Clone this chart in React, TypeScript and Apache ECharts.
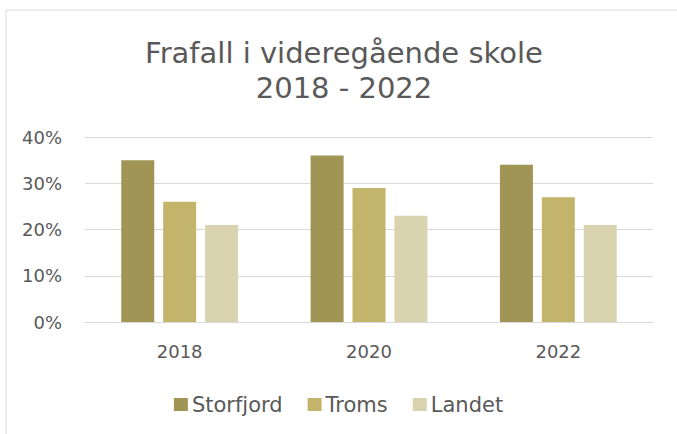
import React, { useEffect, useRef } from "react";
import * as echarts from "echarts";

const categories = ["2018", "2020", "2022"];
const storfjord = [35, 36, 34];
const troms = [26, 29, 27];
const landet = [21, 23, 21];
const yTicks = [0, 10, 20, 30, 40];

const FONT = "'DejaVu Sans', sans-serif";
const TXT = "#595959";

export default function App() {
  const ref = useRef<HTMLDivElement>(null);
  useEffect(() => {
    document.body.style.margin = "0";
    const chart = echarts.init(ref.current!, null, { renderer: "svg" });
    const mk = (name: string, data: number[], color: string) => ({
      name,
      type: "bar",
      data,
      barWidth: 33,
      barGap: "27%",
      itemStyle: { color },
    });
    chart.setOption({
      animation: false,
      backgroundColor: "#fff",
      textStyle: { fontFamily: FONT },
      title: {
        text: "Frafall i videregående skole\n2018 - 2022",
        left: 339,
        top: 30,
        textAlign: "center",
        textStyle: { fontFamily: FONT, fontSize: 29, fontWeight: "normal", color: TXT, lineHeight: 35 },
      },
      legend: {
        top: 394,
        left: "center",
        padding: 0,
        itemWidth: 14,
        itemHeight: 13,
        itemGap: 25,
        icon: "rect",
        textStyle: { fontFamily: FONT, fontSize: 21, color: TXT, padding: [0, 0, 0, -1] },
        data: ["Storfjord", "Troms", "Landet"],
      },
      grid: { left: 85, right: 24, top: 137, bottom: 112, containLabel: false },
      xAxis: {
        type: "category",
        data: categories,
        axisLine: { lineStyle: { color: "#d9d9d9", width: 1 } },
        axisTick: { show: false },
        axisLabel: { fontFamily: FONT, fontSize: 18, color: TXT, margin: 20 },
      },
      yAxis: {
        type: "value",
        min: yTicks[0],
        max: yTicks[yTicks.length - 1],
        interval: 10,
        axisLine: { show: false },
        axisTick: { show: false },
        splitLine: { lineStyle: { color: "#d9d9d9", width: 1 } },
        axisLabel: { fontFamily: FONT, fontSize: 18, color: TXT, margin: 23, formatter: "{value}%" },
      },
      graphic: [
        {
          type: "rect",
          shape: { x: 6, y: 10, width: 720, height: 500 },
          style: { fill: "none", stroke: "#d9d9d9", lineWidth: 1 },
          silent: true,
        },
      ],
      series: [
        mk("Storfjord", storfjord, "#A09555"),
        mk("Troms", troms, "#C2B56B"),
        mk("Landet", landet, "#DAD3B0"),
      ],
    });
    return () => chart.dispose();
  }, []);
  return <div ref={ref} style={{ position: "fixed", left: 0, top: 0, width: 677, height: 434 }} />;
}
